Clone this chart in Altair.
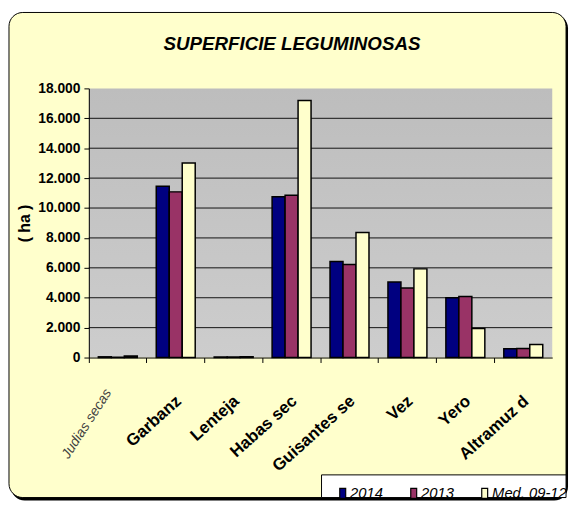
import altair as alt
import pandas as pd

title_text = "SUPERFICIE LEGUMINOSAS"
y_title = "( ha )"
categories = ["Judias secas", "Garbanz", "Lenteja", "Habas sec", "Guisantes se", "Vez", "Yero", "Altramuz d"]
series = ["2014", "2013", "Med. 09-12"]
values_2014 = [50, 11450, 30, 10750, 6430, 5050, 4000, 590]
values_2013 = [20, 11080, 30, 10860, 6220, 4650, 4080, 610]
values_med = [100, 13010, 60, 17190, 8370, 5930, 1950, 880]
y_ticks = [0, 2000, 4000, 6000, 8000, 10000, 12000, 14000, 16000, 18000]
grid_values = [2000, 4000, 6000, 8000, 10000, 12000, 14000, 16000]
colors = ["#000080", "#993366", "#FFFFCC"]

rows = []
for i, c in enumerate(categories):
    for s, vals in zip(series, [values_2014, values_2013, values_med]):
        rows.append({"cat": c, "serie": s, "ha": vals[i]})
df = pd.DataFrame(rows)
one = pd.DataFrame({"k": [0]})
grid_df = pd.DataFrame({"v": grid_values})
lab_first = pd.DataFrame({"cat": categories[:1]})
lab_rest = pd.DataFrame({"cat": categories[1:]})

W, H = 470, 273
PL, PT, PR, PB = 82, 78, 17, 145
FONT = "Liberation Sans"

yscale = alt.Scale(domain=[0, 18000], nice=False, zero=True)
xscale = alt.Scale(domain=categories, paddingInner=0, paddingOuter=0)

yaxis = alt.Axis(title=y_title, values=y_ticks,
                 labelExpr="replace(format(datum.value, ','), ',', '.')",
                 labelFont=FONT, labelFontSize=14, labelFontWeight="bold", labelColor="black",
                 labelPadding=4, tickColor="black", tickSize=5, domainColor="black",
                 grid=False, titleFont=FONT, titleFontSize=16, titleFontWeight="bold",
                 titleColor="black", titlePadding=5, zindex=1)
xaxis = alt.Axis(bandPosition=0, labels=False, tickColor="black", tickSize=5,
                 domainColor="black", domainWidth=1, grid=False, zindex=1)

shadow = alt.Chart(one).mark_rect(fill="black", cornerRadius=14).encode(
    x=alt.value(-PL + 3), x2=alt.value(W + PR - 1),
    y=alt.value(-PT + 3), y2=alt.value(H + PB))
card = alt.Chart(one).mark_rect(fill="#FFFFCC", stroke="black", strokeWidth=1, cornerRadius=14).encode(
    x=alt.value(-PL + 1), x2=alt.value(W + PR - 3),
    y=alt.value(-PT + 1), y2=alt.value(H + PB - 3))
legend_box = alt.Chart(one).mark_rect(fill="white", stroke="black", strokeWidth=1).encode(
    x=alt.value(236), x2=alt.value(W + PR - 3),
    y=alt.value(392), y2=alt.value(H + PB - 3))
plot_bg = alt.Chart(one).mark_rect(
    fill=alt.Gradient(gradient="linear", x1=0, y1=0, x2=0, y2=1,
                      stops=[alt.GradientStop(color="#BDBDBD", offset=0),
                             alt.GradientStop(color="#CDCDCD", offset=1)])
).encode(x=alt.value(0), x2=alt.value(W), y=alt.value(0), y2=alt.value(H))

title = alt.Chart(one).mark_text(font=FONT, fontSize=19, fontWeight="bold", fontStyle="italic",
                                 color="black", align="center", baseline="alphabetic").encode(
    x=alt.value(206), y=alt.value(-39), text=alt.value(title_text))

grid = alt.Chart(grid_df).mark_rule(color="#111111", strokeWidth=1).encode(
    y=alt.Y("v:Q", scale=yscale, axis=yaxis))

bars = alt.Chart(df).mark_bar(stroke="black", strokeWidth=1.5).encode(
    x=alt.X("cat:N", scale=xscale, sort=categories, title=None, axis=xaxis),
    xOffset=alt.XOffset("serie:N", sort=series,
                        scale=alt.Scale(domain=series, paddingInner=0, paddingOuter=0.73)),
    y=alt.Y("ha:Q", scale=yscale, axis=yaxis),
    color=alt.Color("serie:N", sort=series, scale=alt.Scale(domain=series, range=colors),
                    legend=alt.Legend(title=None, orient="none", legendX=250, legendY=403,
                                      direction="horizontal", columns=3, columnPadding=23,
                                      labelFont=FONT, labelFontStyle="italic", labelFontSize=15,
                                      labelColor="black", labelOffset=0, padding=0,
                                      symbolType="M-0.6,-1H0.6V1H-0.6Z", symbolSize=100,
                                      symbolStrokeColor="black", symbolStrokeWidth=1.2,
                                      symbolOpacity=1)),
)

labels_first = alt.Chart(lab_first).mark_text(
    font=FONT, fontSize=14, fontStyle="italic", color="#404040",
    align="right", baseline="top", angle=303, dx=-28).encode(
    x=alt.X("cat:N", scale=xscale, sort=categories, axis=xaxis),
    y=alt.value(H + 6), text="cat:N")

labels_rest = alt.Chart(lab_rest).mark_text(
    font=FONT, fontSize=17, fontWeight="bold", color="black",
    align="right", baseline="top", angle=318, dx=-3).encode(
    x=alt.X("cat:N", scale=xscale, sort=categories, axis=xaxis),
    y=alt.value(H + 34), text="cat:N")

chart = alt.layer(shadow, card, legend_box, plot_bg, grid, bars, labels_first, labels_rest, title).properties(
    width=W, height=H,
    padding={"left": PL, "top": PT, "right": PR, "bottom": PB},
    autosize=alt.AutoSizeParams(type="none"),
    background="white",
).configure_view(stroke=None)

chart.save("out.html", embed_options={"renderer": "svg", "actions": False})
